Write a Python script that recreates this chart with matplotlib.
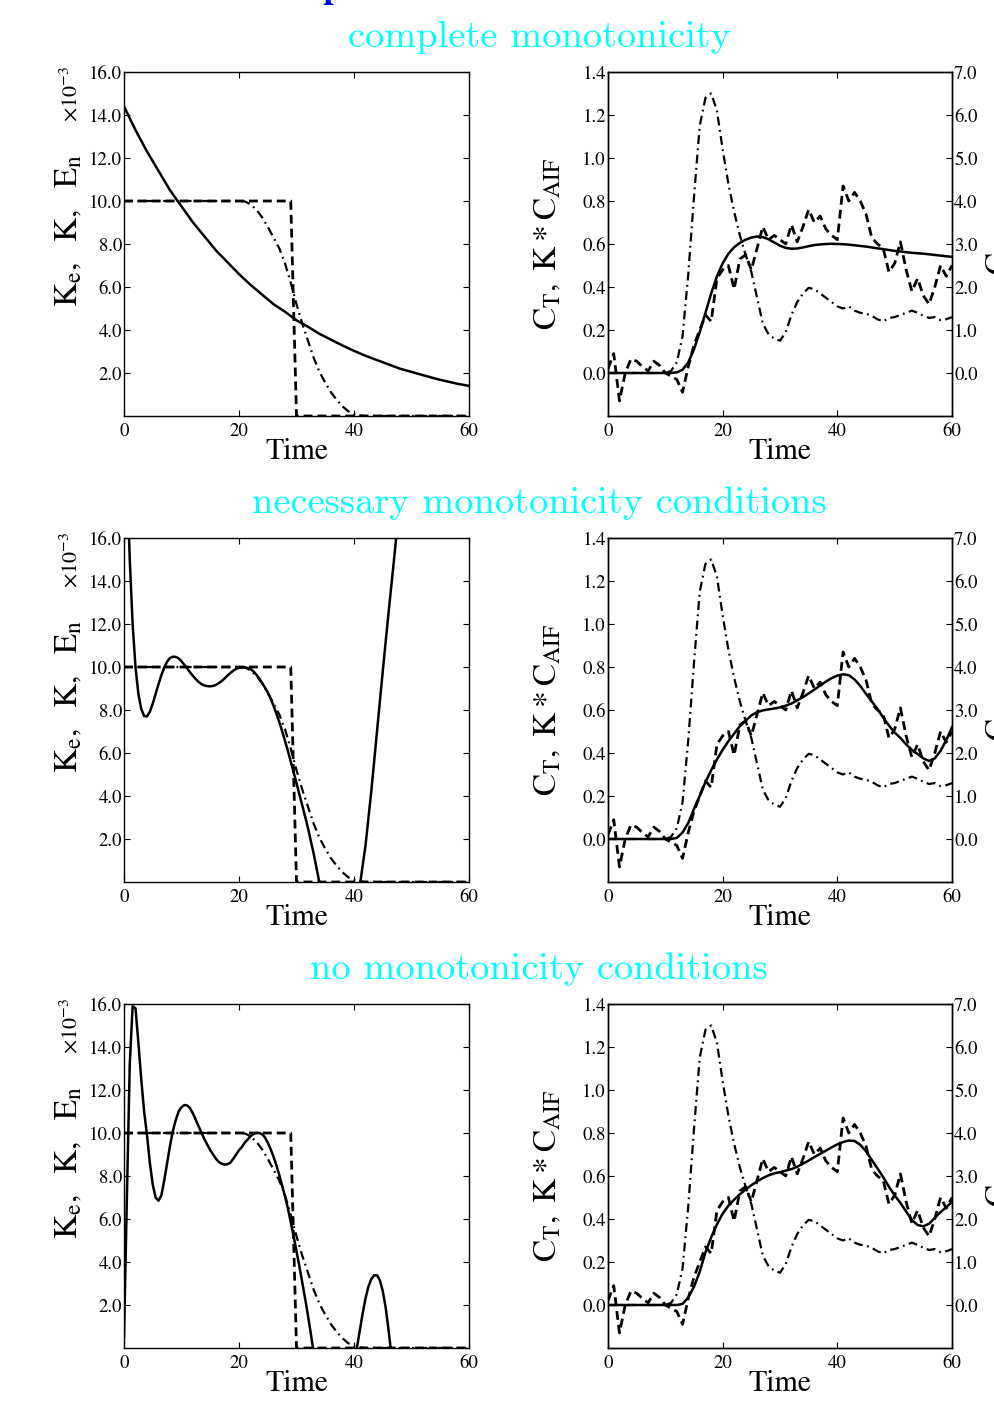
import numpy as np
import matplotlib
matplotlib.use("Agg")
import matplotlib.pyplot as plt

plt.rcParams['font.family'] = 'STIXGeneral'
plt.rcParams['mathtext.fontset'] = 'stix'

# ---- left panels: functions of time (units 1e-3) ----
# step function E_n
step_t = [0, 29, 30, 60]
step_v = [10.0, 10.0, 0.0, 0.0]

# smooth kernel K
k_t = [0, 20, 21, 22, 23, 24, 25, 26, 27, 28, 29, 30, 31, 32, 33, 34, 35, 36,
       37, 38, 39, 40, 41, 42, 60]
k_v = [10.0, 10.0, 9.98, 9.85, 9.6, 9.25, 8.8, 8.3, 7.8, 7.1, 6.2, 5.2, 4.3,
       3.5, 2.7, 2.05, 1.55, 1.1, 0.75, 0.45, 0.22, 0.1, 0.03, 0.0, 0.0]

# estimated K_e, complete monotonicity
ke1_t = list(range(0, 61, 2))
ke1_v = [14.4, 13.3, 12.3, 11.4, 10.5, 9.75, 9.0, 8.35, 7.7, 7.15, 6.6, 6.1,
         5.65, 5.2, 4.85, 4.45, 4.15, 3.82, 3.55, 3.28, 3.03, 2.8, 2.6, 2.4,
         2.2, 2.05, 1.9, 1.75, 1.62, 1.5, 1.4]

# estimated K_e, necessary monotonicity conditions
ke2_t = [0, 0.5, 1, 1.5, 2, 2.5, 3, 3.5, 4, 4.5, 5, 5.5, 6, 6.5, 7, 7.5, 8, 8.5,
         9, 9.5, 10, 10.5, 11, 11.5, 12, 12.5, 13, 13.5, 14, 14.5, 15, 15.5, 16,
         16.5, 17, 17.5, 18, 18.5, 19, 19.5, 20, 20.5, 21, 21.5, 22, 22.5, 23,
         23.5, 24, 24.5, 25, 25.5, 26, 26.5, 27, 27.5, 28, 28.5, 29, 29.5, 30,
         30.5, 31, 31.5, 32, 33, 34, 35, 36, 37, 38, 39, 40, 41, 42, 43, 44, 45,
         46, 47, 48, 50, 55, 60]
ke2_v = [24.0, 19.2, 15.0, 12.0, 10.0, 8.75, 8.05, 7.72, 7.7, 7.92, 8.3, 8.75,
         9.2, 9.62, 9.97, 10.25, 10.42, 10.48, 10.47, 10.4, 10.27, 10.1, 9.93,
         9.75, 9.58, 9.43, 9.3, 9.2, 9.14, 9.11, 9.1, 9.12, 9.17, 9.25, 9.35,
         9.47, 9.6, 9.72, 9.83, 9.91, 9.96, 9.98, 9.98, 9.96, 9.9, 9.8, 9.65,
         9.47, 9.27, 9.05, 8.82, 8.53, 8.2, 7.83, 7.45, 7.02, 6.56, 6.1, 5.6,
         5.1, 4.6, 4.08, 3.56, 3.05, 2.5, 1.3, -0.05, -1.1, -1.9, -2.4, -2.55,
         -2.2, -1.4, -0.2, 1.7, 4.2, 7.0, 9.8, 12.5, 15.1, 17.8, 26.0, 45.0,
         70.0]

# estimated K_e, no monotonicity conditions
ke3_t = [0, 0.5, 1, 1.5, 2, 2.5, 3, 3.5, 4, 4.5, 5, 5.5, 6, 6.5, 7, 7.5, 8, 8.5,
         9, 9.5, 10, 10.5, 11, 11.5, 12, 12.5, 13, 13.5, 14, 14.5, 15, 15.5, 16,
         16.5, 17, 17.5, 18, 18.5, 19, 19.5, 20, 20.5, 21, 21.5, 22, 22.5, 23,
         23.5, 24, 24.5, 25, 25.5, 26, 26.5, 27, 27.5, 28, 28.5, 29, 29.5, 30,
         30.5, 31, 31.5, 32, 32.5, 33, 34, 35, 36, 37, 38, 39, 40, 40.5, 41,
         41.5, 42, 42.5, 43, 43.5, 44, 44.5, 45, 45.5, 46, 46.5, 47, 48]
ke3_v = [0.5, 7.0, 13.2, 15.9, 15.8, 14.2, 12.5, 11.0, 9.9, 8.6, 7.6, 7.0,
         6.85, 7.1, 7.8, 8.6, 9.4, 10.1, 10.6, 11.0, 11.2, 11.3, 11.28, 11.15,
         10.9, 10.6, 10.3, 10.0, 9.7, 9.45, 9.2, 9.0, 8.8, 8.65, 8.57, 8.53,
         8.55, 8.62, 8.8, 9.0, 9.2, 9.35, 9.55, 9.7, 9.85, 9.95, 10.0, 10.0,
         9.95, 9.8, 9.55, 9.25, 8.9, 8.5, 8.05, 7.55, 7.05, 6.5, 5.85, 5.2,
         4.5, 3.8, 3.05, 2.3, 1.5, 0.65, -0.25, -1.6, -2.5, -3.0, -3.1, -2.7,
         -1.9, -0.7, 0.0, 0.8, 1.6, 2.3, 2.85, 3.2, 3.38, 3.38, 3.15, 2.65,
         1.9, 0.85, -0.3, -1.8, -3.5]

# ---- right panels: concentrations, 1-min grid ----
t_min = np.arange(61)

c_aif = [0, 0, 0, 0, 0, 0, 0, 0, 0, 0, 0, 0.05, 0.25, 0.85, 2.3, 4.1, 5.75,
         6.4, 6.5, 6.1, 5.2, 4.4, 3.75, 3.2, 2.75, 2.35, 1.75, 1.15, 0.9, 0.8,
         0.75, 0.95, 1.35, 1.65, 1.85, 1.98, 1.95, 1.85, 1.75, 1.65, 1.55, 1.5,
         1.55, 1.45, 1.4, 1.38, 1.33, 1.25, 1.2, 1.28, 1.3, 1.35, 1.4, 1.45,
         1.4, 1.33, 1.28, 1.3, 1.23, 1.25, 1.3]

c_t = [0.02, 0.09, -0.13, 0.0, 0.065, 0.055, 0.03, 0.01, 0.055, 0.035, 0.0,
       -0.015, -0.03, -0.09, 0.03, 0.13, 0.2, 0.27, 0.24, 0.44, 0.48, 0.5,
       0.39, 0.53, 0.55, 0.48, 0.58, 0.68, 0.62, 0.64, 0.62, 0.6, 0.69, 0.61,
       0.68, 0.76, 0.7, 0.73, 0.67, 0.64, 0.62, 0.87, 0.8, 0.84, 0.8, 0.74,
       0.63, 0.6, 0.58, 0.47, 0.51, 0.61, 0.48, 0.38, 0.44, 0.36, 0.32, 0.4,
       0.5, 0.45, 0.5]

fit1 = [0, 0, 0, 0, 0, 0, 0, 0, 0, 0, 0, 0, 0.003, 0.015, 0.05, 0.11, 0.19,
        0.28, 0.37, 0.45, 0.51, 0.555, 0.585, 0.605, 0.62, 0.63, 0.635, 0.632,
        0.622, 0.607, 0.592, 0.582, 0.578, 0.579, 0.584, 0.59, 0.595, 0.598,
        0.6, 0.601, 0.6, 0.599, 0.597, 0.594, 0.591, 0.588, 0.584, 0.58, 0.576,
        0.572, 0.568, 0.565, 0.562, 0.559, 0.557, 0.555, 0.552, 0.549, 0.546,
        0.543, 0.54]

fit2 = [0, 0, 0, 0, 0, 0, 0, 0, 0, 0, 0, 0, 0.005, 0.03, 0.075, 0.14, 0.2,
        0.265, 0.32, 0.37, 0.415, 0.455, 0.49, 0.525, 0.55, 0.575, 0.59, 0.598,
        0.603, 0.607, 0.612, 0.62, 0.63, 0.645, 0.66, 0.677, 0.695, 0.714,
        0.732, 0.748, 0.76, 0.766, 0.762, 0.742, 0.712, 0.675, 0.64, 0.605,
        0.565, 0.528, 0.495, 0.47, 0.44, 0.415, 0.395, 0.375, 0.363, 0.375,
        0.41, 0.46, 0.52]

fit3 = [0, 0, 0, 0, 0, 0, 0, 0, 0, 0, 0, 0, 0, 0.005, 0.035, 0.085, 0.155,
        0.245, 0.315, 0.375, 0.425, 0.462, 0.49, 0.515, 0.537, 0.557, 0.575,
        0.59, 0.603, 0.612, 0.618, 0.625, 0.632, 0.643, 0.657, 0.672, 0.688,
        0.703, 0.718, 0.733, 0.747, 0.758, 0.765, 0.763, 0.745, 0.715, 0.675,
        0.635, 0.595, 0.55, 0.51, 0.475, 0.435, 0.395, 0.372, 0.366, 0.378,
        0.405, 0.432, 0.455, 0.48]

titles = ["complete monotonicity", "necessary monotonicity conditions",
          "no monotonicity conditions"]
ke_list = [(ke1_t, ke1_v), (ke2_t, ke2_v), (ke3_t, ke3_v)]
fit_list = [fit1, fit2, fit3]

W, H = 994, 1412
fig = plt.figure(figsize=(W / 100, H / 100), dpi=100)

DASH = (0, (3.2, 1.8))
DASHDOT = (0, (4, 2, 0.8, 2))
row_tops = [72, 538, 1004]
title_y = [37, 503, 969]

for i in range(3):
    top = row_tops[i]
    bottom = 1 - (top + 344) / H
    h = 344 / H

    # left panel
    ax = fig.add_axes([124 / W, bottom, 345 / W, h])
    ax.plot(step_t, step_v, color='k', lw=2.0, linestyle=DASH)
    ax.plot(k_t, k_v, color='k', lw=1.6, linestyle=DASHDOT)
    ax.plot(ke_list[i][0], ke_list[i][1], color='k', lw=1.8)
    ax.set_xlim(0, 60)
    ax.set_ylim(0, 16)
    ax.set_xticks([0, 20, 40, 60])
    ax.set_yticks([2, 4, 6, 8, 10, 12, 14, 16])
    ax.set_yticklabels(["%.1f" % v for v in [2, 4, 6, 8, 10, 12, 14, 16]])
    ax.tick_params(direction='in', length=4, width=0.8, top=True, right=True,
                   labelsize=13.5)
    ax.tick_params(axis='y', pad=1.5)
    ax.tick_params(axis='x', pad=5)
    ax.set_xlabel("Time", fontsize=21.5, labelpad=-1)
    ax.set_ylabel(r"$\mathrm{K_e,\ \ K,\ \ E_n}$", fontsize=24)
    ax.yaxis.set_label_coords(-0.115, 0.54)
    for s in ax.spines.values():
        s.set_linewidth(1.0)
    fig.text(71 / W, 1 - (top + 22) / H, r"$\times10^{-3}$", rotation=90,
             fontsize=16, ha='center', va='center')

    # right panel
    axr = fig.add_axes([608 / W, bottom, 344 / W, h])
    axr.plot(t_min, c_t, color='k', lw=2.0, linestyle=DASH)
    axr.plot(t_min, fit_list[i], color='k', lw=1.8)
    axr.set_xlim(0, 60)
    axr.set_ylim(-0.2, 1.4)
    axr.set_xticks([0, 20, 40, 60])
    axr.set_yticks([0, 0.2, 0.4, 0.6, 0.8, 1.0, 1.2, 1.4])
    axr.set_yticklabels(["%.1f" % v for v in [0, 0.2, 0.4, 0.6, 0.8, 1.0, 1.2, 1.4]])
    axr.tick_params(direction='in', length=4, width=0.8, top=True,
                    labelsize=13.5)
    axr.tick_params(axis='y', pad=1.5)
    axr.tick_params(axis='x', pad=5)
    axr.set_xlabel("Time", fontsize=21.5, labelpad=-1)
    axr.set_ylabel(r"$\mathrm{C_T,\ K * C_{AIF}}$", fontsize=24)
    axr.yaxis.set_label_coords(-0.13, 0.5)
    for s in axr.spines.values():
        s.set_linewidth(1.0)

    tw = axr.twinx()
    tw.plot(t_min, c_aif, color='k', lw=1.6, linestyle=DASHDOT)
    tw.set_ylim(-1, 7)
    tw.set_yticks([0, 1, 2, 3, 4, 5, 6, 7])
    tw.set_yticklabels(["%.1f" % v for v in range(8)])
    tw.tick_params(direction='in', length=4, width=0.8, labelsize=13.5, pad=1.5)
    tw.set_ylabel(r"$\mathrm{C_{AIF}}$", fontsize=24, rotation=90)
    tw.yaxis.set_label_coords(1.096, 0.5)
    for s in tw.spines.values():
        s.set_linewidth(1.0)

    fig.text(539 / W, 1 - title_y[i] / H, titles[i], color='cyan',
             fontsize=27.7, family='cmr10', ha='center', va='center')

# cut-off blue heading at the very top
fig.text(332 / W, 1 + 2 / H, "p", color='blue', fontsize=26,
         fontweight='bold', ha='center', va='baseline')

fig.savefig("out.png", dpi=100)
